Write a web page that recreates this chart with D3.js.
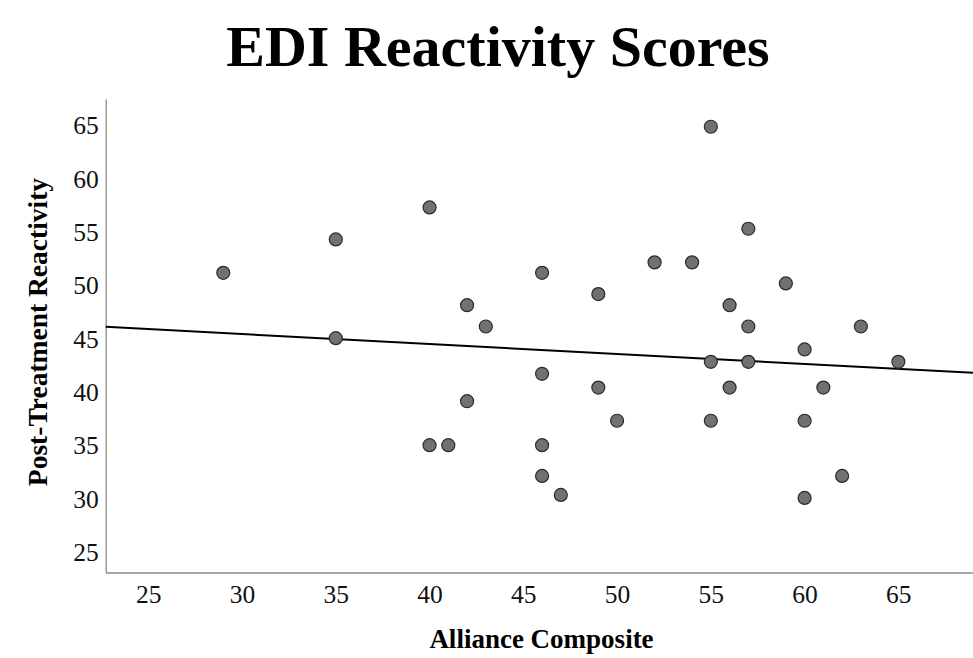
<!DOCTYPE html>
<html>
<head>
<meta charset="utf-8">
<script src="https://cdn.jsdelivr.net/npm/d3@7"></script>
<style>
  body { margin: 0; background: #fff; }
  text { font-family: "Liberation Serif", "Times New Roman", serif; }
</style>
</head>
<body>
<svg id="chart" width="973" height="658"></svg>
<script>
// alliance composite (x) and post-treatment reactivity (y), one entry per participant
let alliance = [29, 35, 35, 40, 40, 41, 42, 42, 43, 46, 46, 46, 46, 47, 49, 49, 50, 52,
  54, 55, 55, 55, 56, 56, 57, 57, 57, 59, 60, 60, 60, 61, 62, 63, 65];
let reactivity = [51.15, 54.28, 45.03, 57.28, 35, 35, 48.12, 39.12, 46.12, 51.15, 41.69, 35, 32.12, 30.34, 49.16, 40.4, 37.29, 52.13,
  52.13, 64.84, 42.81, 37.29, 48.12, 40.4, 55.28, 46.12, 42.81, 50.16, 43.97, 37.29, 30.06, 40.4, 32.12, 46.12, 42.81];
let xTicks = [25, 30, 35, 40, 45, 50, 55, 60, 65];
let yTicks = [25, 30, 35, 40, 45, 50, 55, 60, 65];
// fit line
let fitIntercept = 48.21;
let fitSlope = -0.0932;

let svg = d3.select('#chart');
let plotLeft = 105.7, plotRight = 973, plotTop = 99, plotBottom = 572.5;

let xScale = d3.scaleLinear()
  .domain([22.73, 68.98])
  .range([plotLeft, plotRight]);
let yScale = d3.scaleLinear()
  .domain([23.07, 67.44])
  .range([plotBottom, plotTop]);

// axes
let xAxis = svg.append('g')
  .attr('transform', 'translate(0,' + plotBottom + ')')
  .call(d3.axisBottom(xScale).tickValues(xTicks).tickSize(0).tickPadding(12));
let yAxis = svg.append('g')
  .attr('transform', 'translate(' + plotLeft + ',0)')
  .call(d3.axisLeft(yScale).tickValues(yTicks).tickSize(0).tickPadding(7));

[xAxis, yAxis].forEach(function(a) {
  a.attr('font-family', null).attr('font-size', null);
  a.select('.domain').attr('stroke', '#8a8a8a').attr('stroke-width', 1.3);
  a.selectAll('text')
    .style('font-family', '"Liberation Serif", serif')
    .style('font-size', '25.5px')
    .attr('fill', '#111');
});
xAxis.selectAll('text').attr('dy', '0.71em');
yAxis.selectAll('text').attr('dy', '0.34em');

// fit line
let xd = xScale.domain();
svg.append('line')
  .attr('x1', xScale(xd[0]))
  .attr('x2', xScale(xd[1]))
  .attr('y1', yScale(fitIntercept + fitSlope * xd[0]))
  .attr('y2', yScale(fitIntercept + fitSlope * xd[1]))
  .attr('stroke', '#000')
  .attr('stroke-width', 2);

// points
svg.append('g')
  .selectAll('circle')
  .data(alliance)
  .join('circle')
  .attr('cx', function(d) {return xScale(d)})
  .attr('cy', function(d, i) {return yScale(reactivity[i])})
  .attr('r', 6.5)
  .attr('fill', '#717171')
  .attr('stroke', '#2a2a2a')
  .attr('stroke-width', 1.2);

// titles
svg.append('text')
  .attr('x', 498)
  .attr('y', 66)
  .attr('text-anchor', 'middle')
  .attr('font-weight', 'bold')
  .attr('font-size', 58)
  .text('EDI Reactivity Scores');

svg.append('text')
  .attr('x', 541.5)
  .attr('y', 648)
  .attr('text-anchor', 'middle')
  .attr('font-weight', 'bold')
  .attr('font-size', 27)
  .text('Alliance Composite');

svg.append('text')
  .attr('transform', 'translate(47,332) rotate(-90)')
  .attr('text-anchor', 'middle')
  .attr('font-weight', 'bold')
  .attr('font-size', 27.5)
  .text('Post-Treatment Reactivity');
</script>
</body>
</html>
